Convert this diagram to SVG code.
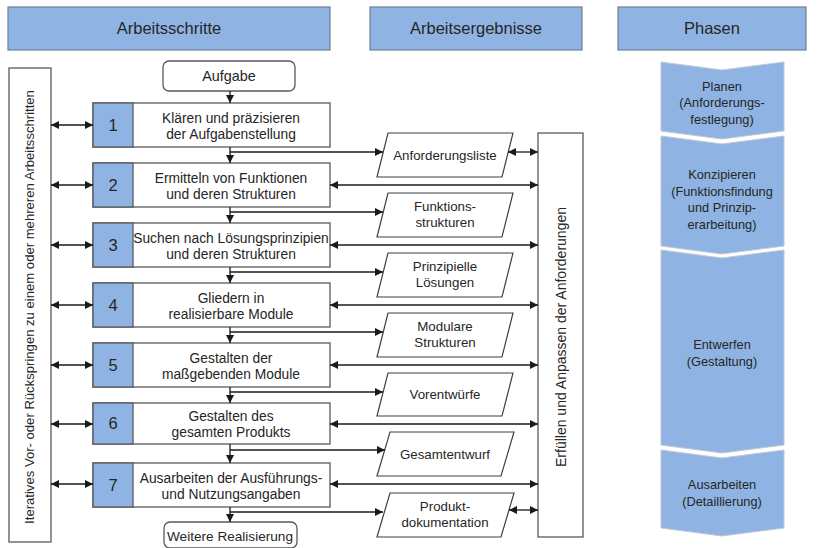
<svg xmlns="http://www.w3.org/2000/svg" width="819" height="548" viewBox="0 0 819 548">
<style>
text{font-family:"Liberation Sans",Arial,sans-serif;fill:#262626;text-anchor:middle}
.hdr{fill:#8fb4e3;stroke:#6d7f95;stroke-width:1.2}
.hdrt{font-size:16.5px}
.box{fill:#fff;stroke:#595959;stroke-width:1.3}
.num{fill:#8fb4e3;stroke:#595959;stroke-width:1.3}
.numt{font-size:16.5px}
.st{font-size:13.8px}
.rt{font-size:13.3px}
.lt{font-size:13.1px}
.et{font-size:14px}
.res{fill:#fff;stroke:#404040;stroke-width:1.2}
.ph{fill:#8fb4e3;stroke:#bfc8d4;stroke-width:1}
.pht{font-size:12.8px}
.c{stroke:#1a1a1a;stroke-width:1.3;fill:none}
</style>
<defs>
<marker id="ah" viewBox="0 0 10 10" refX="10" refY="5" markerWidth="8" markerHeight="8" markerUnits="userSpaceOnUse" orient="auto-start-reverse">
<path d="M0,0 L10,5 L0,10 z" fill="#1a1a1a"/>
</marker>
</defs>

<g id="headers">
<rect class="hdr" x="8" y="7" width="322" height="43"/>
<text class="hdrt" x="169" y="34">Arbeitsschritte</text>
<rect class="hdr" x="370" y="7" width="212" height="43"/>
<text class="hdrt" x="476" y="34">Arbeitsergebnisse</text>
<rect class="hdr" x="618" y="7" width="188" height="43"/>
<text class="hdrt" x="712" y="34">Phasen</text>
</g>

<g id="iterativ">
<rect class="box" x="9" y="68" width="42" height="474"/>
<text class="lt" transform="translate(34,307) rotate(-90)">Iteratives Vor- oder Rückspringen zu einem oder mehreren Arbeitsschritten</text>
</g>

<g id="aufgabe">
<rect class="box" x="163" y="61" width="132" height="30" rx="6"/>
<text class="st" x="229" y="81" style="font-size:14.4px">Aufgabe</text>
</g>

<g id="step1">
<rect class="box" x="93" y="103" width="237" height="44"/>
<rect class="num" x="93" y="103" width="40" height="44"/>
<text class="numt" x="113" y="131">1</text>
<text class="st" x="231" y="123">Klären und präzisieren</text>
<text class="st" x="231" y="139">der Aufgabenstellung</text>
</g>
<g id="step2">
<rect class="box" x="93" y="163" width="237" height="44"/>
<rect class="num" x="93" y="163" width="40" height="44"/>
<text class="numt" x="113" y="191">2</text>
<text class="st" x="231" y="183">Ermitteln von Funktionen</text>
<text class="st" x="231" y="199">und deren Strukturen</text>
</g>
<g id="step3">
<rect class="box" x="93" y="223" width="237" height="44"/>
<rect class="num" x="93" y="223" width="40" height="44"/>
<text class="numt" x="113" y="251">3</text>
<text class="st" x="231" y="243">Suchen nach Lösungsprinzipien</text>
<text class="st" x="231" y="259">und deren Strukturen</text>
</g>
<g id="step4">
<rect class="box" x="93" y="283" width="237" height="44"/>
<rect class="num" x="93" y="283" width="40" height="44"/>
<text class="numt" x="113" y="311">4</text>
<text class="st" x="231" y="303">Gliedern in</text>
<text class="st" x="231" y="319">realisierbare Module</text>
</g>
<g id="step5">
<rect class="box" x="93" y="343" width="237" height="44"/>
<rect class="num" x="93" y="343" width="40" height="44"/>
<text class="numt" x="113" y="371">5</text>
<text class="st" x="231" y="363">Gestalten der</text>
<text class="st" x="231" y="379">maßgebenden Module</text>
</g>
<g id="step6">
<rect class="box" x="93" y="403" width="237" height="41"/>
<rect class="num" x="93" y="403" width="40" height="41"/>
<text class="numt" x="113" y="429">6</text>
<text class="st" x="231" y="421">Gestalten des</text>
<text class="st" x="231" y="437">gesamten Produkts</text>
</g>
<g id="step7">
<rect class="box" x="93" y="463" width="237" height="44"/>
<rect class="num" x="93" y="463" width="40" height="44"/>
<text class="numt" x="113" y="491">7</text>
<text class="st" x="231" y="483">Ausarbeiten der Ausführungs-</text>
<text class="st" x="231" y="499">und Nutzungsangaben</text>
</g>

<g id="weitere">
<rect class="box" x="164" y="522" width="133" height="26" rx="6"/>
<text class="st" x="230" y="541" style="font-size:13.6px">Weitere Realisierung</text>
</g>

<g id="r1"><polygon class="res" points="388,133 513,133 502,177 377,177"/><text class="rt" x="445" y="160">Anforderungsliste</text></g>
<g id="r2"><polygon class="res" points="388,193 513,193 502,237 377,237"/><text class="rt" x="445" y="211">Funktions-</text><text class="rt" x="445" y="227">strukturen</text></g>
<g id="r3"><polygon class="res" points="388,253 513,253 502,297 377,297"/><text class="rt" x="445" y="271">Prinzipielle</text><text class="rt" x="445" y="287">Lösungen</text></g>
<g id="r4"><polygon class="res" points="388,313 513,313 502,357 377,357"/><text class="rt" x="445" y="331">Modulare</text><text class="rt" x="445" y="347">Strukturen</text></g>
<g id="r5"><polygon class="res" points="388,373 513,373 502,416 377,416"/><text class="rt" x="445" y="399">Vorentwürfe</text></g>
<g id="r6"><polygon class="res" points="390,432 514,432 501,476 377,476"/><text class="rt" x="445" y="459">Gesamtentwurf</text></g>
<g id="r7"><polygon class="res" points="390,493 514,493 501,537 377,537"/><text class="rt" x="445" y="511">Produkt-</text><text class="rt" x="445" y="527">dokumentation</text></g>

<g id="erfuellen">
<rect class="box" x="538" y="133" width="45" height="404"/>
<text class="et" transform="translate(566,337) rotate(-90)">Erfüllen und Anpassen der Anforderungen</text>
</g>

<g id="phase1">
<polygon class="ph" points="661,62 722,70 784,62 784,131 722,139 661,131"/>
<text class="pht" x="722" y="91">Planen</text>
<text class="pht" x="722" y="107">(Anforderungs-</text>
<text class="pht" x="722" y="124">festlegung)</text>
</g>
<g id="phase2">
<polygon class="ph" points="661,136 722,144 784,136 784,246 722,254 661,246"/>
<text class="pht" x="722" y="179">Konzipieren</text>
<text class="pht" x="722" y="196">(Funktionsfindung</text>
<text class="pht" x="722" y="212">und Prinzip-</text>
<text class="pht" x="722" y="229">erarbeitung)</text>
</g>
<g id="phase3">
<polygon class="ph" points="661,250 722,258 784,250 784,445 722,453 661,445"/>
<text class="pht" x="722" y="349">Entwerfen</text>
<text class="pht" x="722" y="366">(Gestaltung)</text>
</g>
<g id="phase4">
<polygon class="ph" points="661,450 722,458 784,450 784,528 722,536 661,528"/>
<text class="pht" x="722" y="489">Ausarbeiten</text>
<text class="pht" x="722" y="506">(Detaillierung)</text>
</g>

<g id="connectors">
<line class="c" x1="230" y1="91" x2="230" y2="103" marker-end="url(#ah)"/>
<line class="c" x1="230" y1="147" x2="230" y2="163" marker-end="url(#ah)"/>
<line class="c" x1="230" y1="207" x2="230" y2="223" marker-end="url(#ah)"/>
<line class="c" x1="230" y1="267" x2="230" y2="283" marker-end="url(#ah)"/>
<line class="c" x1="230" y1="327" x2="230" y2="343" marker-end="url(#ah)"/>
<line class="c" x1="230" y1="387" x2="230" y2="403" marker-end="url(#ah)"/>
<line class="c" x1="230" y1="444" x2="230" y2="463" marker-end="url(#ah)"/>
<line class="c" x1="230" y1="507" x2="230" y2="522" marker-end="url(#ah)"/>

<line class="c" x1="230" y1="152" x2="383" y2="152" marker-end="url(#ah)"/>
<line class="c" x1="230" y1="212" x2="383" y2="212" marker-end="url(#ah)"/>
<line class="c" x1="230" y1="272" x2="383" y2="272" marker-end="url(#ah)"/>
<line class="c" x1="230" y1="332" x2="383" y2="332" marker-end="url(#ah)"/>
<line class="c" x1="230" y1="392" x2="383" y2="392" marker-end="url(#ah)"/>
<line class="c" x1="230" y1="450" x2="385" y2="450" marker-end="url(#ah)"/>
<line class="c" x1="230" y1="512" x2="383" y2="512" marker-end="url(#ah)"/>

<line class="c" x1="330" y1="185" x2="538" y2="185" marker-start="url(#ah)" marker-end="url(#ah)"/>
<line class="c" x1="330" y1="245" x2="538" y2="245" marker-start="url(#ah)" marker-end="url(#ah)"/>
<line class="c" x1="330" y1="305" x2="538" y2="305" marker-start="url(#ah)" marker-end="url(#ah)"/>
<line class="c" x1="330" y1="365" x2="538" y2="365" marker-start="url(#ah)" marker-end="url(#ah)"/>
<line class="c" x1="330" y1="424" x2="538" y2="424" marker-start="url(#ah)" marker-end="url(#ah)"/>
<line class="c" x1="330" y1="484" x2="538" y2="484" marker-start="url(#ah)" marker-end="url(#ah)"/>

<line class="c" x1="508" y1="152" x2="538" y2="152" marker-start="url(#ah)" marker-end="url(#ah)"/>
<line class="c" x1="509" y1="510" x2="538" y2="510" marker-start="url(#ah)" marker-end="url(#ah)"/>

<line class="c" x1="51" y1="125" x2="93" y2="125" marker-start="url(#ah)" marker-end="url(#ah)"/>
<line class="c" x1="51" y1="185" x2="93" y2="185" marker-start="url(#ah)" marker-end="url(#ah)"/>
<line class="c" x1="51" y1="245" x2="93" y2="245" marker-start="url(#ah)" marker-end="url(#ah)"/>
<line class="c" x1="51" y1="305" x2="93" y2="305" marker-start="url(#ah)" marker-end="url(#ah)"/>
<line class="c" x1="51" y1="365" x2="93" y2="365" marker-start="url(#ah)" marker-end="url(#ah)"/>
<line class="c" x1="51" y1="424" x2="93" y2="424" marker-start="url(#ah)" marker-end="url(#ah)"/>
<line class="c" x1="51" y1="484" x2="93" y2="484" marker-start="url(#ah)" marker-end="url(#ah)"/>
</g>
</svg>
